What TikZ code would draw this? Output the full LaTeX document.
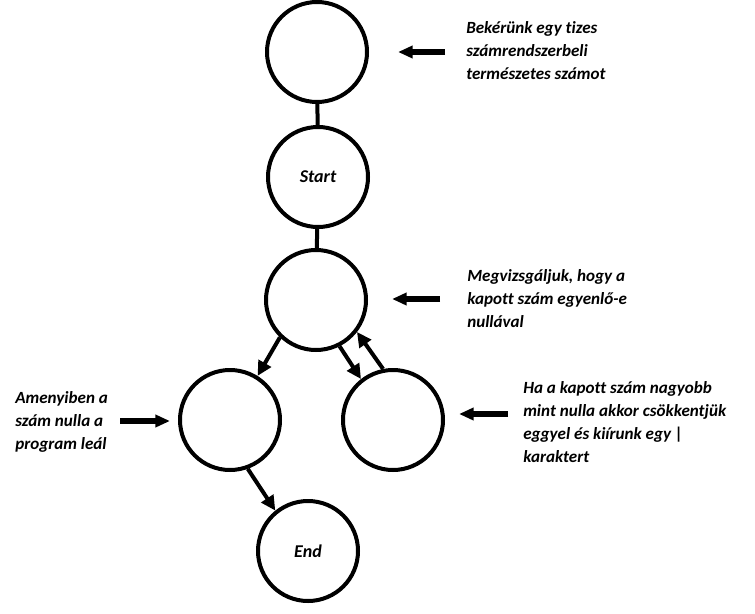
\documentclass[tikz,border=0pt]{standalone}
\usepackage{fontspec}
\setmainfont[Ligatures=NoCommon]{Carlito}
\usetikzlibrary{arrows.meta}
\tikzset{
  allapot/.style={draw, circle, line width=3pt, minimum size=75pt, inner sep=0pt,
    font=\bfseries\itshape\fontsize{13.5}{17}\selectfont},
  megj/.style={anchor=north west, align=left, inner sep=0pt,
    font=\bfseries\itshape\fontsize{12.8}{17.25}\selectfont},
  lep/.style={-{Triangle[length=11pt,width=10.5pt]}, line width=3pt},
  mutat/.style={-{Triangle[length=11pt,width=9pt]}, line width=4.5pt},
}
\begin{document}
\begin{tikzpicture}[x=0.75pt,y=-0.75pt]
    \useasboundingbox (0,0) rectangle (755,613);
    \node[allapot] (beolvas) at (317,52) {};   %input
    \node[allapot] (start) at (318,177) {Start};
    \node[allapot] (vizsgal) at (316,300) {};  %test
    \node[allapot] (nulla) at (230,420) {};    %zero
    \node[allapot] (csokkent) at (393,420) {}; %decrement
    \node[allapot] (vege) at (308,551) {End};
    \draw[line width=3pt] (beolvas) -- (start);
    \draw[line width=3pt] (start) -- (vizsgal);
    \draw[lep] (vizsgal.226) -- (nulla.58);
    \draw[lep] (vizsgal.297) -- (csokkent.128);
    \draw[lep] (csokkent.101) -- (vizsgal.322);
    \draw[lep] (nulla.290) -- (vege.129);
    \node[megj] (m1) at (466,21) {Bekérünk egy tizes\\számrendszerbeli\\természetes számot};
    \node[megj] (m2) at (467,269) {Megvizsgáljuk, hogy a\\kapott szám egyenlő-e\\nullával};
    \node[megj] (m3) at (523,381) {Ha a kapott szám nagyobb\\mint nulla akkor csökkentjük\\eggyel és kiírunk egy |\\karaktert};
    \node[megj] (m4) at (15,391) {Amenyiben a\\szám nulla a\\program leál};
    \coordinate (p1) at (445,52);  \coordinate (q1) at (398,52);
    \coordinate (p2) at (440,299); \coordinate (q2) at (392,299);
    \coordinate (p3) at (508,414); \coordinate (q3) at (459,414);
    \coordinate (p4) at (120,421); \coordinate (q4) at (170,421);
    \draw[mutat] (p1) -- (q1);
    \draw[mutat] (p2) -- (q2);
    \draw[mutat] (p3) -- (q3);
    \draw[mutat] (p4) -- (q4);
\end{tikzpicture}
\end{document}
